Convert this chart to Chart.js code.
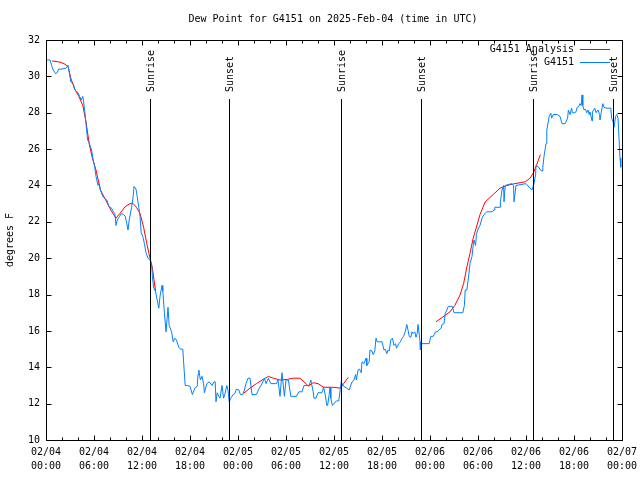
<!DOCTYPE html>
<html><head><meta charset="utf-8">
<script src="https://cdn.jsdelivr.net/npm/chart.js@4/dist/chart.umd.min.js"></script>
<style>html,body{margin:0;padding:0;background:#fff;}</style>
</head><body>
<canvas id="c" width="640" height="480"></canvas>
<script>
const chartTitle = 'Dew Point for G4151 on 2025-Feb-04 (time in UTC)';
const yAxisLabel = 'degrees F';
const analysisLabel = 'G4151 Analysis';
const obsLabel = 'G4151';

// hours since 02/04 00:00 UTC
const obsHours = [0.15,0.5,0.7,0.9,1.2,1.4,1.6,2.0,2.5,2.75,2.9,3.1,3.4,3.6,4.0,4.2,4.4,4.6,4.7,4.85,5.0,5.2,5.35,5.5,5.7,5.9,6.1,6.25,6.5,6.65,6.8,7.1,7.3,7.6,7.9,8.2,8.35,8.6,8.75,8.9,9.2,9.4,9.7,9.9,10.1,10.25,10.4,10.7,10.9,11.0,11.25,11.4,11.6,11.75,11.9,12.1,12.3,12.5,12.75,13.0,13.2,13.3,13.45,13.7,13.9,14.1,14.25,14.5,14.6,14.8,15.0,15.25,15.4,15.7,15.9,16.1,16.3,16.6,16.8,17.1,17.2,17.4,17.7,18.0,18.3,18.6,18.9,19.0,19.1,19.3,19.5,19.7,19.8,20.1,20.4,20.75,21.0,21.15,21.25,21.4,21.6,21.75,22.0,22.2,22.35,22.6,22.75,22.9,23.1,23.4,23.6,23.8,24.1,24.3,24.6,24.8,25.0,25.25,25.5,25.75,26.3,26.6,27.0,27.3,27.5,27.8,28.1,28.8,29.0,29.25,29.5,29.8,30.0,30.3,30.6,31.3,31.6,32.0,32.25,32.9,33.1,33.4,33.5,33.75,34.0,34.5,34.7,34.9,35.1,35.2,35.4,35.5,35.6,35.8,36.3,36.6,36.8,36.9,37.2,37.6,37.9,38.25,38.5,38.7,38.8,39.0,39.2,39.4,39.5,39.75,40.0,40.1,40.4,40.5,40.75,40.9,41.1,41.25,41.4,42.0,42.25,42.4,42.6,42.75,42.9,43.1,43.3,43.5,43.7,43.8,44.1,44.3,44.5,44.7,44.9,45.1,45.3,45.4,45.6,45.75,45.9,46.1,46.25,46.4,46.5,46.7,46.75,46.8,47.0,47.9,48.1,48.4,48.7,48.9,49.1,49.4,49.5,49.75,49.9,50.1,50.3,50.8,51.0,52.1,52.3,52.4,52.6,52.8,53.0,53.25,53.4,53.5,53.7,53.8,54.0,54.25,54.5,54.75,55.1,55.75,56.0,56.1,56.75,56.8,57.0,57.2,57.25,57.4,58.2,58.45,58.5,58.75,60.0,60.5,60.75,61.0,61.2,61.25,61.6,61.8,62.0,62.1,62.25,62.5,62.6,62.9,63.1,63.2,63.4,63.9,64.25,64.5,64.9,65.2,65.3,65.5,65.7,65.8,66.1,66.25,66.4,66.6,66.75,66.9,67.0,67.1,67.25,67.4,67.6,67.75,67.9,68.0,68.25,68.3,68.6,68.75,69.0,69.2,69.25,69.4,69.6,69.75,70.0,70.6,70.7,70.9,71.0,71.2,71.35,71.5,71.75,71.85];
const obsValues = [30.9,30.9,30.6,30.35,30.15,30.2,30.4,30.4,30.45,30.6,30.25,29.7,29.6,29.25,29.1,28.9,28.7,28.9,28.6,28.05,27.4,26.5,26.4,26.2,25.95,25.4,25.0,24.5,24.0,24.1,23.75,23.4,23.3,23.2,22.8,22.75,22.6,22.45,21.8,22.1,22.3,22.45,22.4,22.3,21.9,21.55,22.1,22.8,23.4,23.95,23.8,23.4,22.8,22.3,21.4,21.2,20.8,20.3,20.0,19.9,19.7,19.0,18.4,18.15,17.7,17.25,17.9,18.5,18.2,17.0,15.95,17.3,16.3,15.95,15.4,15.6,15.5,15.1,15.0,15.0,14.3,13.0,13.0,12.95,12.5,12.85,12.95,13.6,13.85,13.3,13.5,13.1,12.6,13.1,13.2,13.0,13.2,13.2,12.1,12.6,12.4,12.3,13.0,12.3,12.5,13.0,12.75,12.1,12.3,12.5,12.55,12.8,12.75,12.5,12.5,12.75,13.1,13.4,13.4,12.5,12.5,12.8,13.1,13.4,13.1,13.4,13.1,13.1,13.3,12.4,13.7,12.4,13.3,13.3,12.4,12.4,12.65,12.65,13.0,13.0,13.3,12.65,12.3,12.3,12.6,12.6,12.9,12.5,11.9,11.9,12.5,12.9,12.3,11.9,12.15,12.15,12.85,13.2,12.95,12.85,12.75,13.2,13.3,13.6,13.3,13.85,13.9,13.7,14.3,14.2,14.5,14.1,14.3,14.95,14.9,14.7,14.9,15.6,15.4,15.4,14.95,15.0,14.75,14.95,14.9,15.5,15.6,15.2,15.3,15.05,15.3,15.4,15.6,15.7,15.95,16.35,15.95,15.7,15.65,15.95,15.85,15.95,15.65,15.85,16.35,15.65,15.4,14.95,15.3,15.3,15.7,15.7,15.95,15.95,16.05,16.15,16.35,16.4,16.95,17.15,17.35,17.35,17.0,17.0,17.4,18.25,18.25,18.9,19.7,20.1,20.7,21.0,20.7,21.3,21.6,21.8,22.2,22.4,22.55,22.55,22.65,22.8,22.8,23.1,23.75,24.0,23.1,24.0,24.1,24.0,23.1,24.0,24.1,23.85,23.75,24.1,24.6,25.1,25.0,24.85,24.8,25.0,25.6,26.3,27.05,27.8,27.97,27.7,27.9,27.9,27.8,27.4,27.4,27.7,28.15,27.9,28.25,28.0,28.0,28.05,28.3,28.35,28.5,28.4,28.98,28.4,28.15,28.2,28.0,28.15,27.9,28.05,27.55,28.05,28.25,28.0,28.15,27.9,27.6,28.0,28.5,28.3,28.25,28.25,27.7,27.5,27.2,27.8,27.9,27.7,25.5,25.0];

const analysisHours = [0.75,1.25,1.75,2.25,2.75,3.1,3.6,4.1,4.6,5.0,5.4,5.8,6.25,6.8,7.4,8.1,8.75,9.25,9.9,10.5,10.9,11.3,11.75,12.2,12.6,13.0,13.3,13.5,13.7,14.0,24.7,25.5,26.3,27.2,27.8,28.4,29.25,30.1,30.9,31.75,32.25,32.8,33.4,34.0,34.7,35.9,36.8,37.2,37.8,40.0,48.75,50.5,51.1,51.75,52.2,52.6,53.0,53.4,53.8,54.25,54.9,55.9,56.75,57.6,58.6,59.9,60.5,60.9,61.3,61.8];
const analysisValues = [30.85,30.82,30.78,30.7,30.55,29.9,29.3,28.9,28.4,27.5,26.3,25.5,24.85,23.75,23.25,22.65,22.2,22.47,22.83,23.0,23.0,22.8,22.47,21.7,20.8,20.0,19.45,18.8,18.2,null,12.57,12.85,13.1,13.35,13.5,13.4,13.3,13.33,13.4,13.4,13.2,12.97,13.15,13.1,12.9,12.9,12.85,13.1,13.45,null,16.5,17.05,17.4,17.97,18.6,19.5,20.27,21.1,21.7,22.4,23.1,23.5,23.85,24.0,24.1,24.2,24.4,24.67,25.1,25.7];

const xTickHours = [0,6,12,18,24,30,36,42,48,54,60,66,72];
const xTickDates = ['02/04','02/04','02/04','02/04','02/05','02/05','02/05','02/05','02/06','02/06','02/06','02/06','02/07'];
const xTickTimes = ['00:00','06:00','12:00','18:00','00:00','06:00','12:00','18:00','00:00','06:00','12:00','18:00','00:00'];
const xMinorStep = 2;
const yTickValues = [10,12,14,16,18,20,22,24,26,28,30,32];

const sunHours = [13.02,22.93,36.92,46.92,60.92,70.92];
const sunLabels = ['Sunrise','Sunset','Sunrise','Sunset','Sunrise','Sunset'];
const sunLineTop = 28.75;

const FONT = '10px "DejaVu Sans Mono", "Liberation Mono", monospace';

const decor = {
  id: 'decor',
  afterDatasetsDraw(chart) {
    const {ctx, chartArea: a, scales: {x, y}} = chart;
    ctx.save();
    ctx.strokeStyle = '#000';
    ctx.fillStyle = '#000';
    ctx.lineWidth = 1;
    ctx.font = FONT;
    // sunrise / sunset lines
    sunHours.forEach((h, i) => {
      const px = Math.round(x.getPixelForValue(h)) + 0.5;
      const top = Math.round(y.getPixelForValue(sunLineTop));
      ctx.beginPath();
      ctx.moveTo(px, top);
      ctx.lineTo(px, a.bottom);
      ctx.stroke();
      ctx.save();
      ctx.translate(px + 1, top - 7);
      ctx.rotate(-Math.PI / 2);
      ctx.textAlign = 'left';
      ctx.textBaseline = 'middle';
      ctx.fillText(sunLabels[i], 0, 0);
      ctx.restore();
    });
    // frame
    const L = Math.round(a.left) + 0.5, R = Math.round(a.right) + 0.5;
    const T = Math.round(a.top) + 0.5, B = Math.round(a.bottom) + 0.5;
    ctx.strokeRect(L, T, R - L, B - T);
    // ticks
    ctx.beginPath();
    for (let h = x.min; h <= x.max; h += xMinorStep) {
      const px = Math.round(x.getPixelForValue(h)) + 0.5;
      const len = (h % 6 === 0) ? 5 : 3;
      ctx.moveTo(px, B); ctx.lineTo(px, B - len);
      ctx.moveTo(px, T); ctx.lineTo(px, T + len);
    }
    yTickValues.forEach(v => {
      const py = Math.round(y.getPixelForValue(v)) + 0.5;
      ctx.moveTo(L, py); ctx.lineTo(L + 5, py);
      ctx.moveTo(R, py); ctx.lineTo(R - 5, py);
    });
    ctx.stroke();
    // title
    ctx.textAlign = 'center';
    ctx.textBaseline = 'middle';
    ctx.fillText(chartTitle, 333, 19);
    // y axis label
    ctx.save();
    ctx.translate(10, (a.top + a.bottom) / 2);
    ctx.rotate(-Math.PI / 2);
    ctx.fillText(yAxisLabel, 0, 0);
    ctx.restore();
    // legend
    const legendItems = [chart.data.datasets[0], chart.data.datasets[1]];
    legendItems.forEach((ds, i) => {
      const ly = 49.5 + i * 13;
      ctx.textAlign = 'right';
      ctx.fillStyle = '#000';
      ctx.fillText(ds.label, 574, ly);
      ctx.strokeStyle = ds.borderColor;
      ctx.beginPath();
      ctx.moveTo(580, Math.round(ly) - 0.5);
      ctx.lineTo(610, Math.round(ly) - 0.5);
      ctx.stroke();
    });
    ctx.restore();
  }
};

new Chart(document.getElementById('c'), {
  type: 'line',
  data: {
    datasets: [
      {
        label: analysisLabel,
        data: analysisHours.map((h, i) => ({x: h, y: analysisValues[i]})),
        borderColor: '#ff0000',
        borderWidth: 1,
        pointRadius: 0,
        tension: 0,
        spanGaps: false,
        order: 1
      },
      {
        label: obsLabel,
        data: obsHours.map((h, i) => ({x: h, y: obsValues[i]})),
        borderColor: '#0080ff',
        borderWidth: 1,
        pointRadius: 0,
        tension: 0,
        order: 0
      }
    ]
  },
  options: {
    responsive: false,
    animation: false,
    devicePixelRatio: 1,
    layout: {padding: {top: 40, right: 18, left: 0, bottom: 0}},
    plugins: {legend: {display: false}, tooltip: {enabled: false}, title: {display: false}},
    scales: {
      x: {
        type: 'linear', min: 0, max: 72, position: 'bottom',
        grid: {display: false, drawTicks: false, tickLength: 0},
        border: {display: false},
        afterBuildTicks: s => { s.ticks = xTickHours.map(v => ({value: v})); },
        afterFit: s => { s.height = 40; s.paddingLeft = 0; s.paddingRight = 0; },
        ticks: {
          autoSkip: false, maxRotation: 0, minRotation: 0, padding: 5, color: '#000',
          font: {family: '"DejaVu Sans Mono", "Liberation Mono", monospace', size: 10, lineHeight: 1.4},
          callback: (v) => { const i = xTickHours.indexOf(v); return i >= 0 ? [xTickDates[i], xTickTimes[i]] : ''; }
        }
      },
      y: {
        type: 'linear', min: 10, max: 32,
        grid: {display: false, drawTicks: false, tickLength: 0},
        border: {display: false},
        afterBuildTicks: s => { s.ticks = yTickValues.map(v => ({value: v})); },
        afterFit: s => { s.width = 46; s.paddingTop = 0; s.paddingBottom = 0; },
        ticks: {
          padding: 6, color: '#000',
          font: {family: '"DejaVu Sans Mono", "Liberation Mono", monospace', size: 10},
          callback: v => String(v)
        }
      }
    }
  },
  plugins: [decor]
});
</script>
</body></html>
